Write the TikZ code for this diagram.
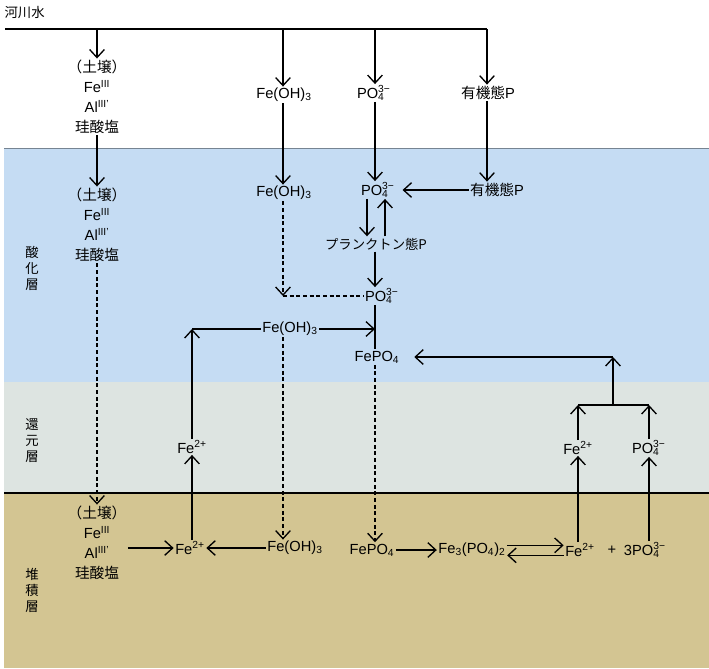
\documentclass[tikz,border=0pt]{standalone}
\usepackage{fontspec}
\setmainfont{Liberation Sans}
\newfontfamily\jp{Noto Sans CJK JP}
\usetikzlibrary{arrows.meta}
\definecolor{oxiblue}{RGB}{197,220,243}
\definecolor{redgray}{RGB}{221,228,225}
\definecolor{sedtan}{RGB}{211,197,146}
\newcommand{\POq}{PO\rlap{\textsuperscript{3−}}\textsubscript{4}\hphantom{\textsuperscript{3−}}}
\newcommand{\FeOH}{Fe(OH)\textsubscript{3}}
\newcommand{\soil}{{\jp （土壌）}\\Fe\textsuperscript{III}\\Al\textsuperscript{III'}\\{\jp 珪酸塩}}
\begin{document}
\begin{tikzpicture}[x=0.75pt,y=-0.75pt,font=\fontsize{11}{15}\selectfont,
  lk/.style={line width=1pt},arr/.style={lk,-{Straight Barb[length=6pt,width=11pt]}},
  dsh/.style={dash pattern=on 3pt off 2pt},tx/.style={inner sep=1pt,align=center},
  lay/.style={font=\jp\fontsize{10}{12}\selectfont,align=center,inner sep=0pt}]
\useasboundingbox (0,0) rectangle (709,668);
\fill[oxiblue] (4,148) rectangle (709,382); \fill[redgray] (4,382) rectangle (709,493); \fill[sedtan] (4,493) rectangle (709,668);
\draw[oxiblue!60!black,line width=0.4pt] (4,148) -- (709,148); \draw[line width=0.8pt] (4,493) -- (709,493);
\node[lay] (oxi) at (32,268) {酸\\化\\層}; \node[lay] (rdc) at (32,441) {還\\元\\層}; \node[lay] (sed) at (32,590) {堆\\積\\層};
\node[tx,anchor=west,font=\jp] (river) at (3,12) {河川水};
\coordinate (tL) at (5,29); \coordinate (cF) at (283,29); \coordinate (cP) at (375,29); \coordinate (cPd) at (367,29); \coordinate (cPu) at (385,29); \coordinate (cO) at (487,29);
\draw[lk] (tL) -- (cO);
\node[tx] (soilA) at (97,97) {\soil}; \node[tx] (soilB) at (97,225) {\soil}; \node[tx] (soilC) at (97,543) {\soil};
\node[tx] (fe1) at (284,95) {\FeOH}; \node[tx] (fe2) at (284,193) {\FeOH}; \node[tx] (fe3) at (290,329) {\FeOH}; \node[tx] (fe4) at (295,548) {\FeOH};
\node[tx] (po1) at (377,93) {\POq}; \node[tx] (po2) at (381,190) {\POq}; \node[tx,font=\jp] (pl) at (376,244) {プランクトン態P}; \node[tx] (po3) at (385,296) {\POq};
\node[tx] (fp1) at (377,357) {FePO\textsubscript{4}}; \node[tx] (fp2) at (372,550) {FePO\textsubscript{4}};
\node[tx] (og1) at (488,93) {{\jp 有機態}P}; \node[tx] (og2) at (497,190) {{\jp 有機態}P};
\node[tx] (fe2a) at (192,447) {Fe\textsuperscript{2+}}; \node[tx] (fe2b) at (190,548) {Fe\textsuperscript{2+}};
\node[tx] (f3p) at (472,550) {Fe\textsubscript{3}(PO\textsubscript{4})\textsubscript{2}};
\node[tx] (fe2c) at (580,550) {Fe\textsuperscript{2+}}; \node[tx] (plus) at (612,550) {+}; \node[tx] (po5) at (648,550) {3\POq};
\node[tx] (fe2d) at (578,448) {Fe\textsuperscript{2+}}; \node[tx] (po4r) at (652,448) {\POq};
\coordinate (jA) at (578,405); \coordinate (jB) at (649,405); \coordinate (jM) at (613,405); \coordinate (jT) at (613,357);
\draw[arr] (soilA |- tL) -- (soilA); \draw[arr] (soilA) -- (soilB); \draw[arr,dsh] (soilB) -- (soilC);
\draw[arr] (cF) -- (cF |- fe1.north); \draw[arr] (cF |- fe1.south) -- (cF |- fe2.north);
\draw[arr,dsh] (cF |- fe2.south) -- (cF |- po3); \draw[lk,dsh] (cF |- po3) -- (po3);
\draw[arr] (cP) -- (cP |- po1.north); \draw[arr] (cP |- po1.south) -- (cP |- po2.north);
\draw[arr] (cO) -- (cO |- og1.north); \draw[arr] (cO |- og1.south) -- (cO |- og2.north); \draw[arr] (og2) -- (po2);
\draw[arr] (cPd |- po2.south) -- (cPd |- pl.north); \draw[arr] (cPu |- pl.north) -- (cPu |- po2.south);
\draw[arr] (cP |- pl.south) -- (cP |- po3.north); \draw[lk] (cP |- po3.south) -- (cP |- fp1.north);
\draw[arr] (fe2a) -- (fe2a |- fe3); \draw[lk] (fe2a |- fe3) -- (fe3); \draw[arr] (fe3) -- (fe3 -| cP);
\draw[arr,dsh] (cF |- fe3.south) -- (cF |- fe4.north); \draw[arr,dsh] (cP |- fp1.south) -- (cP |- fp2.north);
\draw[arr] (soilC.east |- fe2b) -- (fe2b); \draw[arr] (fe4) -- (fe2b); \draw[arr] (fe2a |- fe2b.north) -- (fe2a.south);
\draw[arr] (fp2) -- (f3p); \draw[arr] ([yshift=3.5pt]f3p.east) -- ([yshift=3.5pt]fe2c.west); \draw[arr] ([yshift=-4pt]fe2c.west) -- ([yshift=-4pt]f3p.east);
\draw[arr] (jA |- fe2c.north) -- (jA |- fe2d.south); \draw[arr] (jB |- po5.north) -- (jB |- po4r.south);
\draw[arr] (jA |- fe2d.north) -- (jA); \draw[arr] (jB |- po4r.north) -- (jB); \draw[lk] (jA) -- (jB);
\draw[arr] (jM) -- (jT); \draw[arr,shorten >=10pt] (jT) -- (fp1);
\end{tikzpicture}
\end{document}
